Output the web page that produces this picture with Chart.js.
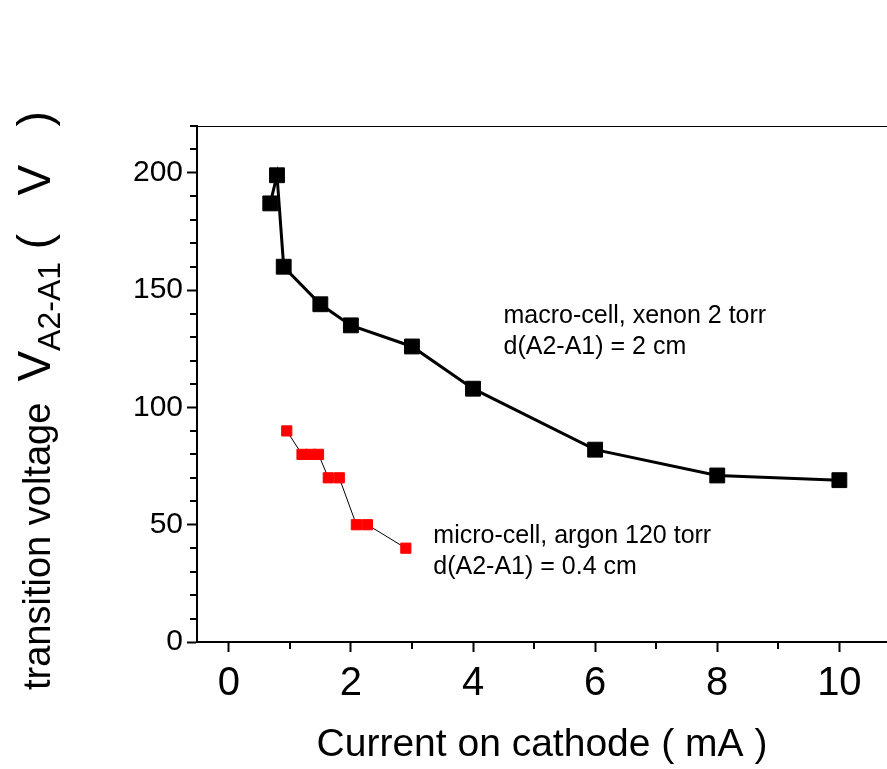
<!DOCTYPE html>
<html>
<head>
<meta charset="utf-8">
<script src="https://cdn.jsdelivr.net/npm/chart.js@4.4.0/dist/chart.umd.min.js"></script>
<style>
  body { margin: 0; background: #fff; }
  #wrap { width: 887px; height: 769px; }
</style>
</head>
<body>
<div id="wrap"><canvas id="voltChart" width="887" height="769"></canvas></div>
<script>
// --- values ---
const macroCurrent = [0.68, 0.79, 0.9, 1.5, 2, 3, 4, 6, 8, 10];
const macroVoltage = [187, 199, 160, 144, 135, 126, 108, 82, 71, 69];
const microCurrent = [0.95, 1.2, 1.34, 1.47, 1.63, 1.81, 2.09, 2.27, 2.9];
const microVoltage = [90, 80, 80, 80, 70, 70, 50, 50, 40];

const xMajorTicks = [0, 2, 4, 6, 8, 10];
const xMinorTicks = [1, 3, 5, 7, 9];
const yMajorTicks = [0, 50, 100, 150, 200];
const yMinorTicks = [10, 20, 30, 40, 60, 70, 80, 90, 110, 120, 130, 140, 160, 170, 180, 190, 210, 220];

const macroNote = ['macro-cell, xenon 2 torr', 'd(A2-A1) = 2 cm'];
const microNote = ['micro-cell, argon 120 torr', 'd(A2-A1) = 0.4 cm'];

const FONT = '"Liberation Sans", Arial, sans-serif';

const toPoints = (xs, ys) => xs.map((x, i) => ({ x: x, y: ys[i] }));

// minor ticks, top frame line, notes and the y title with subscript
const extrasPlugin = {
    id: 'extras',
    afterDraw(chart) {
        const { ctx, chartArea, scales } = chart;
        const xs = scales.x, ys = scales.y;
        ctx.save();

        // top frame
        ctx.strokeStyle = '#000';
        ctx.lineWidth = 1;
        ctx.beginPath();
        ctx.moveTo(chartArea.left, chartArea.top + 0.5);
        ctx.lineTo(chartArea.right, chartArea.top + 0.5);
        ctx.stroke();

        // minor ticks
        ctx.lineWidth = 2;
        ctx.beginPath();
        xMinorTicks.forEach(v => {
            const px = Math.round(xs.getPixelForValue(v));
            ctx.moveTo(px, chartArea.bottom);
            ctx.lineTo(px, chartArea.bottom + 7);
        });
        yMinorTicks.forEach(v => {
            const py = Math.round(ys.getPixelForValue(v));
            ctx.moveTo(chartArea.left, py);
            ctx.lineTo(chartArea.left - 7, py);
        });
        ctx.stroke();

        // notes
        ctx.fillStyle = '#000';
        ctx.font = '25px ' + FONT;
        ctx.textBaseline = 'alphabetic';
        ctx.textAlign = 'left';
        const drawNote = (lines, vx, vy) => {
            const px = xs.getPixelForValue(vx);
            const py = ys.getPixelForValue(vy);
            lines.forEach((t, i) => ctx.fillText(t, px, py + i * 31));
        };
        drawNote(macroNote, 4.5, 136);
        drawNote(microNote, 3.35, 42.2);

        // y axis title, rotated
        ctx.translate(50, 690);
        ctx.rotate(-Math.PI / 2);
        let pos = 0;
        const seg = (t, size, dy) => {
            ctx.font = size + 'px ' + FONT;
            ctx.fillText(t, pos, dy);
            pos += ctx.measureText(t).width;
        };
        seg('transition voltage  ', 38, 0);
        seg('V', 46, 0);
        seg('A2-A1', 32, 10);
        seg(' (   V   )', 46, 0);
        ctx.restore();
    }
};

const ctx = document.getElementById('voltChart').getContext('2d');
const voltChart = new Chart(ctx, {
    type: 'scatter',
    data: {
        datasets: [
            {
                label: 'macro-cell',
                data: toPoints(macroCurrent, macroVoltage),
                showLine: true,
                borderColor: '#000',
                borderWidth: 3,
                pointStyle: 'rect',
                pointRadius: 10.5,
                pointBorderWidth: 1,
                pointBackgroundColor: '#000',
                pointBorderColor: '#000'
            },
            {
                label: 'micro-cell',
                data: toPoints(microCurrent, microVoltage),
                showLine: true,
                borderColor: '#000',
                borderWidth: 1,
                pointStyle: 'rect',
                pointRadius: 7.2,
                pointBorderWidth: 1,
                pointBackgroundColor: '#ff0000',
                pointBorderColor: '#ff0000'
            }
        ]
    },
    options: {
        responsive: false,
        animation: false,
        layout: { autoPadding: false, padding: { top: 126, left: 0, right: 0, bottom: 0 } },
        plugins: {
            legend: { display: false },
            tooltip: { enabled: false }
        },
        scales: {
            x: {
                type: 'linear',
                min: -0.52,
                max: 10.78,
                afterFit: s => { s.height = 127; s.paddingLeft = 0; s.paddingRight = 0; },
                afterBuildTicks: s => { s.ticks = xMajorTicks.map(v => ({ value: v })); },
                grid: { drawOnChartArea: false, drawTicks: true, tickLength: 10, tickWidth: 2, tickColor: '#000' },
                border: { display: true, color: '#000', width: 2 },
                ticks: { color: '#000', font: { family: FONT, size: 40 }, padding: 8, maxRotation: 0 },
                title: {
                    display: true,
                    text: 'Current on cathode ( mA )',
                    color: '#000',
                    font: { family: FONT, size: 39 },
                    padding: { top: 0, bottom: 0 }
                }
            },
            y: {
                type: 'linear',
                min: 0,
                max: 220,
                afterFit: s => { s.width = 197; s.paddingTop = 0; s.paddingBottom = 0; },
                afterBuildTicks: s => { s.ticks = yMajorTicks.map(v => ({ value: v })); },
                grid: { drawOnChartArea: false, drawTicks: true, tickLength: 10, tickWidth: 2, tickColor: '#000' },
                border: { display: true, color: '#000', width: 2 },
                ticks: { color: '#000', font: { family: FONT, size: 30 }, padding: 4 }
            }
        }
    },
    plugins: [extrasPlugin]
});
</script>
</body>
</html>
